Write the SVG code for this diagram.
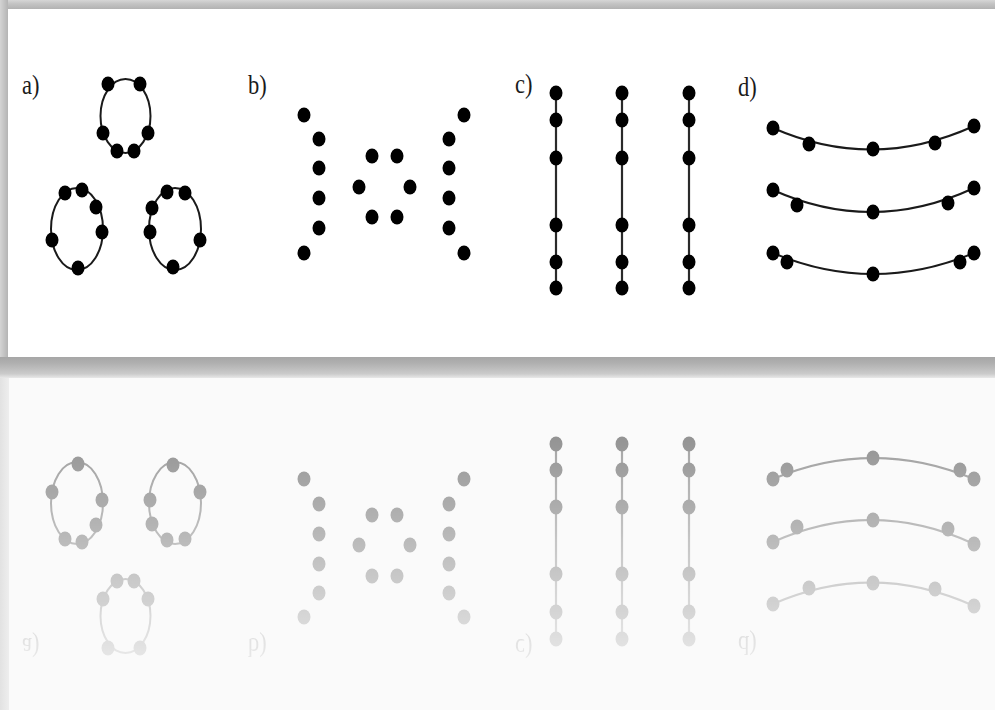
<svg xmlns="http://www.w3.org/2000/svg" xmlns:xlink="http://www.w3.org/1999/xlink" width="995" height="710" viewBox="0 0 995 710">
<style>
.lbl{font-family:"Liberation Serif","Times New Roman",serif;font-size:25px;fill:#1a1a1a}
.edge{fill:none;stroke:#1a1a1a;stroke-width:2}
.vline{fill:none;stroke:#2a2a2a;stroke-width:2.2}
</style>
<defs>
<ellipse id="dot" cx="0" cy="0" rx="6.5" ry="7.5" fill="#000"/>
<linearGradient id="leftStrip" x1="0" y1="0" x2="1" y2="0">
<stop offset="0" stop-color="#d4d4d4"/><stop offset="1" stop-color="#b4b4b4"/>
</linearGradient>
<linearGradient id="topStrip" x1="0" y1="0" x2="0" y2="1">
<stop offset="0" stop-color="#d6d6d6"/><stop offset="0.4" stop-color="#c4c4c4"/><stop offset="1" stop-color="#b2b2b2"/>
</linearGradient>
<linearGradient id="shadow" x1="0" y1="0" x2="0" y2="1">
<stop offset="0" stop-color="#a6a6a6"/><stop offset="0.3" stop-color="#b0b0b0"/><stop offset="0.55" stop-color="#bdbdbd"/><stop offset="0.8" stop-color="#cbcbcb"/><stop offset="1" stop-color="#e8e8e8"/>
</linearGradient>
<linearGradient id="reflLeft" x1="0" y1="0" x2="1" y2="0">
<stop offset="0" stop-color="#e2e2e2"/><stop offset="1" stop-color="#eeeeee"/>
</linearGradient>
<linearGradient id="fadeGrad" gradientUnits="userSpaceOnUse" x1="0" y1="378" x2="0" y2="710">
<stop offset="0" stop-color="#fff" stop-opacity="0.5"/>
<stop offset="1" stop-color="#fff" stop-opacity="0"/>
</linearGradient>
<mask id="fade" maskUnits="userSpaceOnUse" x="0" y="370" width="995" height="340">
<rect x="0" y="370" width="995" height="340" fill="url(#fadeGrad)"/>
</mask>
</defs>

<!-- frame -->
<g id="frame">
<rect x="0" y="0" width="995" height="710" fill="#ffffff"/>
<rect x="0" y="0" width="995" height="9" fill="url(#topStrip)"/>
<rect x="0" y="0" width="8" height="360" fill="url(#leftStrip)"/>
<rect x="8" y="9" width="987" height="348" fill="#ffffff"/>
<rect x="0" y="357" width="995" height="21" fill="url(#shadow)"/>
<rect x="0" y="378" width="995" height="332" fill="#fafafa"/>
<rect x="0" y="378" width="9" height="332" fill="url(#reflLeft)"/>
</g>

<g id="scene">
<g id="connectors">
<ellipse cx="125.5" cy="116" rx="25" ry="37" class="edge"/>
<ellipse cx="77" cy="229" rx="26" ry="41" class="edge"/>
<ellipse cx="175" cy="229" rx="26" ry="41" class="edge"/>
<line x1="556" y1="93" x2="556" y2="288" class="vline"/>
<line x1="622" y1="93" x2="622" y2="288" class="vline"/>
<line x1="689" y1="93" x2="689" y2="288" class="vline"/>
<path d="M773,128 Q873,172 974,126" class="edge"/>
<path d="M773,190 Q873,235 974,188" class="edge"/>
<path d="M773,253 Q873,295 974,253" class="edge"/>
</g>

<g id="panel-a">
<text class="lbl" transform="translate(22,94) scale(0.9,1.12)">a)</text>
<g id="a-ring-top">
<use id="a1" xlink:href="#dot" x="108" y="84"/>
<use id="a2" xlink:href="#dot" x="140" y="84"/>
<use id="a3" xlink:href="#dot" x="103" y="133"/>
<use id="a4" xlink:href="#dot" x="148" y="133"/>
<use id="a5" xlink:href="#dot" x="117" y="151"/>
<use id="a6" xlink:href="#dot" x="134" y="151"/>
</g>
<g id="a-ring-left">
<use id="a7" xlink:href="#dot" x="65" y="193"/>
<use id="a8" xlink:href="#dot" x="82" y="190"/>
<use id="a9" xlink:href="#dot" x="96" y="207"/>
<use id="a10" xlink:href="#dot" x="102" y="232"/>
<use id="a11" xlink:href="#dot" x="52" y="240"/>
<use id="a12" xlink:href="#dot" x="78" y="268"/>
</g>
<g id="a-ring-right">
<use id="a13" xlink:href="#dot" x="167" y="192"/>
<use id="a14" xlink:href="#dot" x="185" y="193"/>
<use id="a15" xlink:href="#dot" x="152" y="208"/>
<use id="a16" xlink:href="#dot" x="150" y="232"/>
<use id="a17" xlink:href="#dot" x="200" y="240"/>
<use id="a18" xlink:href="#dot" x="173" y="267"/>
</g>
</g>

<g id="panel-b">
<text class="lbl" transform="translate(248,94) scale(0.9,1.12)">b)</text>
<use id="b1" xlink:href="#dot" x="304" y="115"/>
<use id="b2" xlink:href="#dot" x="319" y="139"/>
<use id="b3" xlink:href="#dot" x="319" y="168"/>
<use id="b4" xlink:href="#dot" x="319" y="198"/>
<use id="b5" xlink:href="#dot" x="319" y="228"/>
<use id="b6" xlink:href="#dot" x="304" y="253"/>
<use id="b7" xlink:href="#dot" x="464" y="115"/>
<use id="b8" xlink:href="#dot" x="449" y="139"/>
<use id="b9" xlink:href="#dot" x="449" y="168"/>
<use id="b10" xlink:href="#dot" x="449" y="198"/>
<use id="b11" xlink:href="#dot" x="449" y="228"/>
<use id="b12" xlink:href="#dot" x="464" y="253"/>
<use id="b13" xlink:href="#dot" x="372" y="156"/>
<use id="b14" xlink:href="#dot" x="397" y="156"/>
<use id="b15" xlink:href="#dot" x="359" y="187"/>
<use id="b16" xlink:href="#dot" x="410" y="187"/>
<use id="b17" xlink:href="#dot" x="372" y="217"/>
<use id="b18" xlink:href="#dot" x="397" y="217"/>
</g>

<g id="panel-c">
<text class="lbl" transform="translate(515,93) scale(0.9,1.12)">c)</text>
<use id="c1" xlink:href="#dot" x="556" y="93"/>
<use id="c2" xlink:href="#dot" x="556" y="120"/>
<use id="c3" xlink:href="#dot" x="556" y="158"/>
<use id="c4" xlink:href="#dot" x="556" y="225"/>
<use id="c5" xlink:href="#dot" x="556" y="262"/>
<use id="c6" xlink:href="#dot" x="556" y="288"/>
<use id="c7" xlink:href="#dot" x="622" y="93"/>
<use id="c8" xlink:href="#dot" x="622" y="120"/>
<use id="c9" xlink:href="#dot" x="622" y="158"/>
<use id="c10" xlink:href="#dot" x="622" y="225"/>
<use id="c11" xlink:href="#dot" x="622" y="262"/>
<use id="c12" xlink:href="#dot" x="622" y="288"/>
<use id="c13" xlink:href="#dot" x="689" y="93"/>
<use id="c14" xlink:href="#dot" x="689" y="120"/>
<use id="c15" xlink:href="#dot" x="689" y="158"/>
<use id="c16" xlink:href="#dot" x="689" y="225"/>
<use id="c17" xlink:href="#dot" x="689" y="262"/>
<use id="c18" xlink:href="#dot" x="689" y="288"/>
</g>

<g id="panel-d">
<text class="lbl" transform="translate(738,96) scale(0.9,1.12)">d)</text>
<use id="d1" xlink:href="#dot" x="773" y="128"/>
<use id="d2" xlink:href="#dot" x="809" y="144"/>
<use id="d3" xlink:href="#dot" x="873" y="149"/>
<use id="d4" xlink:href="#dot" x="935" y="143"/>
<use id="d5" xlink:href="#dot" x="974" y="126"/>
<use id="d6" xlink:href="#dot" x="773" y="190"/>
<use id="d7" xlink:href="#dot" x="797" y="205"/>
<use id="d8" xlink:href="#dot" x="873" y="212"/>
<use id="d9" xlink:href="#dot" x="948" y="203"/>
<use id="d10" xlink:href="#dot" x="974" y="188"/>
<use id="d11" xlink:href="#dot" x="773" y="253"/>
<use id="d12" xlink:href="#dot" x="787" y="262"/>
<use id="d13" xlink:href="#dot" x="873" y="274"/>
<use id="d14" xlink:href="#dot" x="960" y="262"/>
<use id="d15" xlink:href="#dot" x="974" y="253"/>
</g>
</g>

<g id="reflection" mask="url(#fade)">
<use xlink:href="#scene" transform="matrix(1,0,0,-1,0,732)"/>
</g>
</svg>
